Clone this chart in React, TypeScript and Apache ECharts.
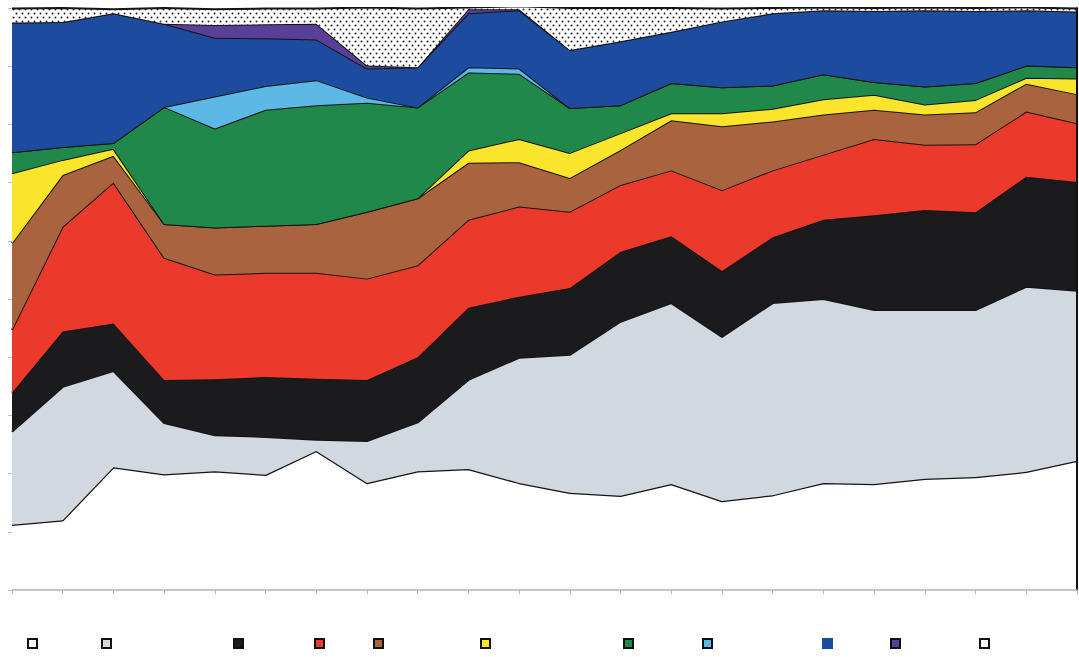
import React, { useEffect, useRef } from 'react';
import * as echarts from 'echarts';

const categories = ['1', '2', '3', '4', '5', '6', '7', '8', '9', '10', '11', '12', '13', '14', '15', '16', '17', '18', '19', '20', '21', '22'];

const whiteBase = [11.2, 12.0, 21.1, 19.9, 20.4, 19.8, 23.9, 18.4, 20.4, 20.8, 18.4, 16.7, 16.2, 18.2, 15.3, 16.3, 18.4, 18.2, 19.1, 19.4, 20.3, 22.2];
const grayVals = [16.0, 22.9, 16.5, 8.8, 6.2, 6.5, 1.9, 7.2, 8.4, 15.3, 21.5, 23.7, 29.9, 31.1, 28.2, 33.0, 31.6, 29.9, 29.0, 28.7, 31.8, 29.2];
const blackVals = [6.7, 9.5, 8.2, 7.4, 9.6, 10.3, 10.5, 10.5, 11.2, 12.4, 10.5, 11.5, 12.0, 11.5, 11.3, 11.3, 13.6, 16.3, 17.2, 16.8, 18.9, 18.7];
const redVals = [10.8, 18.0, 24.2, 21.0, 18.0, 17.9, 18.2, 17.4, 15.8, 15.1, 15.5, 13.1, 11.5, 11.3, 13.9, 11.5, 11.2, 13.1, 11.2, 11.7, 11.2, 10.1];
const brownVals = [14.9, 8.9, 4.6, 5.8, 8.1, 8.1, 8.4, 11.5, 11.5, 9.8, 7.6, 5.8, 6.0, 8.6, 11.0, 8.4, 6.9, 5.0, 5.2, 5.5, 4.8, 5.0];
const yellowVals = [12.0, 2.6, 1.2, 0, 0, 0, 0, 0, 0, 2.1, 4.0, 4.3, 2.9, 1.2, 2.2, 2.2, 2.6, 2.6, 1.7, 2.1, 1.0, 2.7];
const greenVals = [3.6, 2.2, 1.0, 20.1, 17.0, 19.9, 20.4, 18.7, 15.6, 13.4, 11.2, 7.7, 4.8, 5.2, 4.5, 4.0, 4.3, 2.2, 3.1, 2.9, 2.1, 1.9];
const lightBlueVals = [0, 0, 0, 0, 5.5, 4.1, 4.3, 0.9, 0, 0.9, 0.9, 0, 0, 0, 0, 0, 0, 0, 0, 0, 0, 0];
const darkBlueVals = [22.3, 21.5, 22.3, 14.3, 10.1, 8.2, 7.0, 5.0, 6.9, 9.3, 10.0, 10.0, 11.0, 8.8, 11.3, 12.4, 11.0, 12.2, 13.1, 12.4, 9.5, 9.6];
const purpleVals = [0, 0, 0, 0, 2.2, 2.4, 2.7, 0.5, 0, 0.7, 0.2, 0, 0, 0, 0, 0, 0, 0, 0, 0, 0, 0];
const dottedVals = [2.4, 2.4, 0.7, 2.7, 2.7, 2.7, 2.6, 10.0, 10.1, 0.3, 0.5, 7.2, 5.7, 4.1, 2.2, 0.9, 0.5, 0.5, 0.5, 0.5, 0.5, 0.5];

const seriesNames = ['S1', 'S2', 'S3', 'S4', 'S5', 'S6', 'S7', 'S8', 'S9', 'S10', 'S11'];
const seriesData = [whiteBase, grayVals, blackVals, redVals, brownVals, yellowVals, greenVals, lightBlueVals, darkBlueVals, purpleVals, dottedVals];
const seriesColors = ['#ffffff', '#d2d8df', '#1b1b1d', '#eb3a2c', '#a9633f', '#fae42c', '#20894a', '#5cb8e4', '#1d4c9f', '#5a3f98', 'DOTS'];
const legendCenters = [32, 106, 238, 319, 378, 485, 628, 707, 827, 895, 984];

export default function App() {
  const ref = useRef<HTMLDivElement>(null);
  useEffect(() => {
    if (!ref.current) return;
    const chart = echarts.init(ref.current, null, { renderer: 'svg' });

    const cv = document.createElement('canvas');
    cv.width = 6;
    cv.height = 8;
    const ctx = cv.getContext('2d')!;
    ctx.fillStyle = '#ffffff';
    ctx.fillRect(0, 0, 6, 8);
    ctx.fillStyle = '#222222';
    ctx.beginPath();
    ctx.arc(1.5, 1.5, 1.0, 0, Math.PI * 2);
    ctx.arc(4.5, 5.5, 1.0, 0, Math.PI * 2);
    ctx.fill();
    const dotPattern: any = { image: cv.toDataURL(), repeat: 'repeat', imageWidth: 6, imageHeight: 8 };

    const colorOf = (i: number) => (seriesColors[i] === 'DOTS' ? dotPattern : seriesColors[i]);

    const series: any[] = seriesNames.map((name, i) => ({
      name,
      type: 'line',
      stack: 'total',
      data: seriesData[i],
      symbol: 'none',
      smooth: false,
      z: 2 + i,
      lineStyle: { color: '#141414', width: i === 0 ? 2.5 : 2 },
      itemStyle: { color: seriesColors[i] === 'DOTS' ? '#ffffff' : seriesColors[i] },
      areaStyle: { color: colorOf(i), opacity: 1 },
    }));

    const legends: any[] = seriesNames.map((name, i) => ({
      data: [
        {
          name,
          icon: 'rect',
          itemStyle: {
            color: seriesColors[i] === 'DOTS' ? '#ffffff' : seriesColors[i],
            borderColor: i === 8 ? seriesColors[i] : '#111111',
            borderWidth: 2,
          },
        },
      ],
      left: legendCenters[i] - 5,
      top: 638,
      itemWidth: 9,
      itemHeight: 9,
      padding: 0,
      itemGap: 0,
      formatter: () => '',
      selectedMode: false,
      textStyle: { fontSize: 1 },
    }));

    chart.setOption({
      animation: false,
      backgroundColor: '#ffffff',
      grid: { left: 12, right: 2, top: 8, bottom: 67, containLabel: false },
      legend: legends,
      xAxis: {
        type: 'category',
        data: categories,
        boundaryGap: false,
        axisLabel: { show: false },
        axisLine: { show: true, lineStyle: { color: '#aeb6bf', width: 1.5 } },
        axisTick: { show: true, length: 4, alignWithLabel: true, lineStyle: { color: '#aeb6bf' } },
        splitLine: { show: false },
        z: 20,
      },
      yAxis: [
        {
          type: 'value',
          min: 0,
          max: 100,
          interval: 10,
          axisLabel: { show: false },
          axisLine: { show: true, lineStyle: { color: '#b8c0c8', width: 1 } },
          axisTick: { show: true, length: 4, lineStyle: { color: '#b8c0c8' } },
          splitLine: { show: false },
        },
        {
          type: 'value',
          position: 'right',
          min: 0,
          max: 100,
          interval: 10,
          axisLabel: { show: false },
          axisLine: { show: true, lineStyle: { color: '#111111', width: 2 } },
          axisTick: { show: false },
          splitLine: { show: false },
          z: 20,
        },
      ],
      series,
    });
    return () => chart.dispose();
  }, []);
  return (
    <div
      ref={ref}
      style={{ position: 'fixed', left: 0, top: 0, width: 1079, height: 657, background: '#fff' }}
    />
  );
}
